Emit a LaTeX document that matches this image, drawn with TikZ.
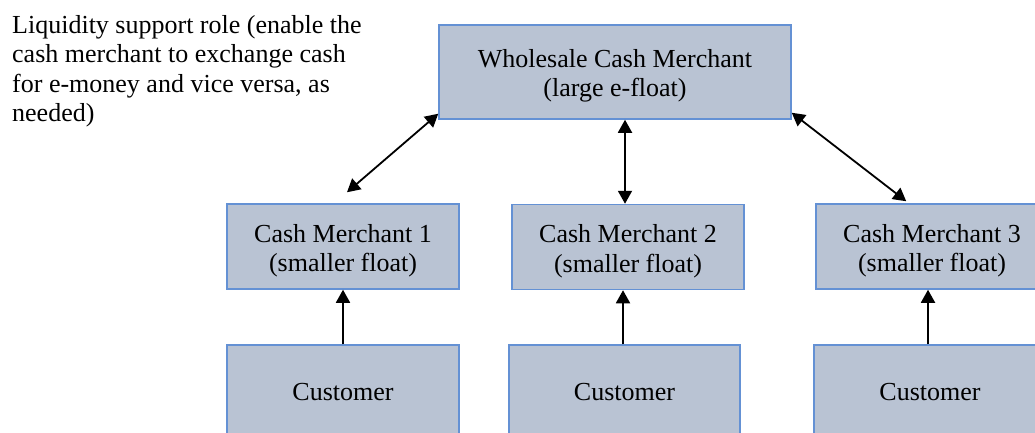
\documentclass[tikz,border=0pt]{standalone}
\usepackage{fontspec}
\setmainfont{Liberation Serif}
\usetikzlibrary{arrows.meta,calc}
\definecolor{boxfill}{RGB}{185,195,211}
\definecolor{boxline}{RGB}{100,145,212}
\tikzset{
  txt/.style={font=\fontsize{26}{29.5}\selectfont},
  agent/.style={txt, draw=boxline, fill=boxfill, line width=1.5pt,
    minimum width=232pt, minimum height=85pt, align=center, inner sep=0pt},
  caption/.style={label={[txt, align=center, yshift=-4pt]center:{#1}}},
  twoway/.style={line width=1.8pt, {Triangle[length=13pt,width=14pt]}-{Triangle[length=13pt,width=14pt]}},
  oneway/.style={line width=1.8pt, -{Triangle[length=13pt,width=14pt]}}
}
\begin{document}
\begin{tikzpicture}[x=1pt,y=-1pt]
  \useasboundingbox (0,0) rectangle (1035,433);
  \fill[white] (0,0) rectangle (1035,433);

  % side note
  \node[txt, anchor=north west, align=left, inner sep=0pt] (note) at (12,15)
    {Liquidity support role (enable the\\cash merchant to exchange cash\\for e-money and vice versa, as\\needed)};

  % wholesale tier
  \node[agent, minimum width=352pt, minimum height=94pt,
        caption={Wholesale Cash Merchant\\(large e-float)}] (top) at (615,72) {};

  % cash merchant tier
  \node[agent, caption={Cash Merchant 1\\(smaller float)}] (cm1) at (343,246.5) {};
  \node[agent, caption={Cash Merchant 2\\(smaller float)}] (cm2) at (628,247) {};
  \node[agent, caption={Cash Merchant 3\\(smaller float)}] (cm3) at (932,246.5) {};

  % customer tier
  \begin{scope}
    \clip (0,0) rectangle (1035,433);
    \node[agent, minimum height=95pt] (cu1) at (343,392.5) {Customer};
    \node[agent, minimum width=231pt, minimum height=95pt] (cu2) at (624.5,392.5) {Customer};
    \node[agent, minimum height=95pt] (cu3) at (930,392.5) {Customer};
  \end{scope}

  % liquidity links
  \draw[twoway] ($(top.south west)+(0,-6)$) -- ($(cm1.north)+(4,-11)$);
  \draw[twoway] (cm2.north -| 625,0) -- (top.south -| 625,0);
  \draw[twoway] ($(top.south east)+(0,-7)$) -- ($(cm3.north west)+(91,-2)$);

  % customer links
  \draw[oneway] (cu1.north) -- (cu1.north |- cm1.south);
  \draw[oneway] (cu2.north -| 623,0) -- (cm2.south -| 623,0);
  \draw[oneway] (cu3.north -| 928,0) -- (cm3.south -| 928,0);
\end{tikzpicture}
\end{document}
